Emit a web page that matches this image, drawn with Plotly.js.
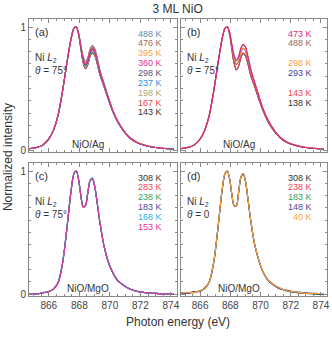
<!DOCTYPE html>
<html>
<head>
<meta charset="utf-8">
<script src="https://cdn.plot.ly/plotly-3.0.1.min.js"></script>
<style>
  body { margin: 0; background: #fff; }
  #plot { width: 332px; height: 337px; }
</style>
</head>
<body>
<div id="plot"></div>
<script>
// photon energy grid (eV) shared by all spectra
let energy = [864.7, 865.2, 865.6, 866.0, 866.3, 866.6, 866.9, 867.2, 867.45, 867.65, 867.8, 867.95,
  868.1, 868.25, 868.4, 868.55, 868.7, 868.85, 869.0, 869.15, 869.35, 869.6, 869.9, 870.2,
  870.5, 870.9, 871.3, 871.8, 872.4, 873.0, 873.6, 874.2];

// (a) NiO/Ag, theta = 75
let temps_a = ["488 K", "476 K", "395 K", "360 K", "298 K", "237 K", "198 K", "167 K", "143 K"];
let colors_a = ["#5b8db3", "#9b6b5b", "#f7a23e", "#e2319b", "#56507c", "#2a92d2", "#a9a77c", "#f2424f", "#333333"];
let spectra_a = [
  [0.01, 0.02, 0.04, 0.09, 0.16, 0.28, 0.48, 0.72, 0.90, 0.99, 1.0, 0.95, 0.85, 0.76, 0.72, 0.75, 0.82, 0.85, 0.83, 0.76, 0.65, 0.55, 0.43, 0.32, 0.24, 0.16, 0.10, 0.06, 0.035, 0.02, 0.012, 0.008],
  [0.01, 0.02, 0.04, 0.09, 0.16, 0.28, 0.48, 0.72, 0.90, 0.99, 1.0, 0.95, 0.85, 0.755, 0.715, 0.745, 0.815, 0.845, 0.825, 0.755, 0.645, 0.548, 0.43, 0.32, 0.24, 0.16, 0.10, 0.06, 0.035, 0.02, 0.012, 0.008],
  [0.012, 0.022, 0.042, 0.092, 0.162, 0.282, 0.48, 0.72, 0.90, 0.99, 1.0, 0.95, 0.845, 0.75, 0.705, 0.735, 0.805, 0.835, 0.815, 0.75, 0.64, 0.545, 0.43, 0.32, 0.24, 0.16, 0.105, 0.065, 0.038, 0.022, 0.014, 0.01],
  [0.01, 0.02, 0.04, 0.09, 0.16, 0.28, 0.48, 0.72, 0.90, 0.99, 1.0, 0.945, 0.84, 0.745, 0.70, 0.73, 0.80, 0.83, 0.81, 0.745, 0.64, 0.54, 0.425, 0.318, 0.238, 0.158, 0.10, 0.06, 0.035, 0.02, 0.012, 0.008],
  [0.01, 0.02, 0.04, 0.09, 0.16, 0.28, 0.48, 0.72, 0.90, 0.99, 1.0, 0.945, 0.835, 0.735, 0.69, 0.72, 0.79, 0.82, 0.80, 0.735, 0.63, 0.535, 0.42, 0.315, 0.235, 0.156, 0.10, 0.06, 0.035, 0.02, 0.012, 0.008],
  [0.01, 0.02, 0.04, 0.09, 0.16, 0.28, 0.48, 0.72, 0.90, 0.99, 1.0, 0.945, 0.83, 0.73, 0.685, 0.715, 0.785, 0.815, 0.795, 0.73, 0.625, 0.53, 0.418, 0.313, 0.233, 0.155, 0.10, 0.06, 0.035, 0.02, 0.012, 0.008],
  [0.01, 0.02, 0.04, 0.09, 0.16, 0.28, 0.48, 0.72, 0.90, 0.99, 1.0, 0.94, 0.83, 0.725, 0.675, 0.705, 0.775, 0.805, 0.785, 0.725, 0.62, 0.528, 0.416, 0.312, 0.232, 0.155, 0.10, 0.06, 0.035, 0.02, 0.012, 0.008],
  [0.01, 0.02, 0.04, 0.09, 0.16, 0.28, 0.48, 0.72, 0.90, 0.99, 1.0, 0.94, 0.825, 0.715, 0.665, 0.695, 0.765, 0.795, 0.775, 0.715, 0.615, 0.525, 0.413, 0.31, 0.23, 0.155, 0.10, 0.06, 0.035, 0.02, 0.012, 0.008],
  [0.01, 0.02, 0.04, 0.09, 0.16, 0.28, 0.48, 0.72, 0.90, 0.99, 1.0, 0.94, 0.82, 0.71, 0.66, 0.69, 0.76, 0.79, 0.77, 0.71, 0.61, 0.52, 0.41, 0.31, 0.23, 0.155, 0.10, 0.06, 0.035, 0.02, 0.012, 0.008]
];

// (b) NiO/Ag, theta = 75
let temps_b = ["473 K", "488 K", "", "298 K", "293 K", "", "143 K", "138 K"];
let colors_b = ["#e2238d", "#9b6b5b", "", "#f7a23e", "#3d3d9c", "", "#f2424f", "#333333"];
let spectra_b = [
  [0.01, 0.02, 0.04, 0.09, 0.16, 0.28, 0.48, 0.72, 0.90, 0.99, 1.0, 0.955, 0.86, 0.77, 0.73, 0.76, 0.83, 0.86, 0.84, 0.77, 0.66, 0.555, 0.435, 0.325, 0.243, 0.162, 0.10, 0.06, 0.035, 0.02, 0.012, 0.008],
  [0.012, 0.022, 0.042, 0.092, 0.162, 0.282, 0.48, 0.72, 0.90, 0.99, 1.0, 0.955, 0.855, 0.765, 0.725, 0.755, 0.825, 0.855, 0.835, 0.765, 0.655, 0.553, 0.433, 0.323, 0.242, 0.162, 0.102, 0.062, 0.036, 0.021, 0.013, 0.009],
  null,
  [0.012, 0.022, 0.042, 0.092, 0.162, 0.282, 0.48, 0.72, 0.90, 0.99, 1.0, 0.95, 0.84, 0.745, 0.70, 0.73, 0.80, 0.83, 0.81, 0.745, 0.64, 0.54, 0.425, 0.318, 0.238, 0.16, 0.104, 0.064, 0.038, 0.022, 0.014, 0.01],
  [0.01, 0.02, 0.04, 0.09, 0.16, 0.28, 0.48, 0.72, 0.90, 0.99, 1.0, 0.95, 0.84, 0.74, 0.695, 0.725, 0.795, 0.825, 0.805, 0.74, 0.635, 0.538, 0.423, 0.316, 0.236, 0.157, 0.10, 0.06, 0.035, 0.02, 0.012, 0.008],
  null,
  [0.01, 0.02, 0.04, 0.09, 0.16, 0.28, 0.48, 0.72, 0.90, 0.99, 1.0, 0.94, 0.82, 0.71, 0.655, 0.685, 0.755, 0.79, 0.77, 0.71, 0.61, 0.52, 0.41, 0.31, 0.23, 0.155, 0.10, 0.06, 0.035, 0.02, 0.012, 0.008],
  [0.01, 0.02, 0.04, 0.09, 0.16, 0.28, 0.48, 0.72, 0.90, 0.99, 1.0, 0.94, 0.815, 0.705, 0.65, 0.68, 0.75, 0.785, 0.765, 0.705, 0.605, 0.518, 0.408, 0.308, 0.228, 0.153, 0.10, 0.06, 0.035, 0.02, 0.012, 0.008]
];

// (c) NiO/MgO, theta = 75
let temps_c = ["308 K", "283 K", "238 K", "183 K", "168 K", "153 K"];
let colors_c = ["#333333", "#f2424f", "#2fa564", "#4a4aa0", "#27b4ec", "#e6329f"];
let spectra_c = [
  [0.0, 0.0, 0.01, 0.02, 0.04, 0.09, 0.25, 0.55, 0.83, 0.98, 1.0, 0.93, 0.80, 0.71, 0.72, 0.82, 0.92, 0.94, 0.88, 0.76, 0.58, 0.40, 0.26, 0.17, 0.11, 0.07, 0.04, 0.02, 0.01, 0.005, 0.0, 0.0],
  [0.0, 0.0, 0.01, 0.02, 0.04, 0.09, 0.25, 0.55, 0.83, 0.98, 1.0, 0.93, 0.80, 0.712, 0.722, 0.822, 0.922, 0.942, 0.882, 0.762, 0.582, 0.402, 0.262, 0.172, 0.112, 0.07, 0.04, 0.02, 0.01, 0.005, 0.0, 0.0],
  [0.0, 0.0, 0.01, 0.02, 0.04, 0.09, 0.25, 0.55, 0.83, 0.98, 1.0, 0.93, 0.80, 0.708, 0.718, 0.818, 0.918, 0.938, 0.878, 0.758, 0.578, 0.398, 0.258, 0.168, 0.108, 0.07, 0.04, 0.02, 0.01, 0.005, 0.0, 0.0],
  [0.0, 0.0, 0.01, 0.02, 0.04, 0.092, 0.252, 0.552, 0.832, 0.98, 1.0, 0.93, 0.80, 0.71, 0.72, 0.82, 0.92, 0.94, 0.88, 0.76, 0.58, 0.40, 0.26, 0.17, 0.11, 0.07, 0.04, 0.02, 0.01, 0.005, 0.0, 0.0],
  [0.0, 0.0, 0.012, 0.022, 0.044, 0.095, 0.255, 0.555, 0.835, 0.98, 1.0, 0.93, 0.80, 0.714, 0.724, 0.824, 0.924, 0.944, 0.884, 0.764, 0.586, 0.406, 0.266, 0.176, 0.116, 0.074, 0.043, 0.022, 0.011, 0.006, 0.002, 0.001],
  [0.0, 0.0, 0.01, 0.02, 0.04, 0.09, 0.25, 0.55, 0.83, 0.98, 1.0, 0.93, 0.80, 0.706, 0.716, 0.816, 0.916, 0.936, 0.876, 0.756, 0.584, 0.404, 0.264, 0.174, 0.114, 0.072, 0.042, 0.022, 0.011, 0.005, 0.0, 0.0]
];

// (d) NiO/MgO, theta = 0
let temps_d = ["308 K", "238 K", "183 K", "148 K", "40 K"];
let colors_d = ["#333333", "#f2424f", "#2fa564", "#4a4aa0", "#f7a23e"];
let spectra_d = [
  [0.005, 0.01, 0.015, 0.025, 0.045, 0.10, 0.26, 0.56, 0.84, 0.98, 1.0, 0.94, 0.81, 0.72, 0.72, 0.83, 0.95, 0.98, 0.92, 0.79, 0.60, 0.41, 0.27, 0.17, 0.11, 0.07, 0.045, 0.025, 0.012, 0.006, 0.0, -0.005],
  [0.01, 0.005, 0.02, 0.02, 0.05, 0.095, 0.255, 0.555, 0.835, 0.98, 1.0, 0.935, 0.805, 0.715, 0.715, 0.825, 0.945, 0.975, 0.915, 0.785, 0.595, 0.405, 0.265, 0.175, 0.115, 0.075, 0.04, 0.03, 0.015, 0.004, 0.005, 0.0],
  [0.0, 0.012, 0.01, 0.03, 0.04, 0.10, 0.26, 0.56, 0.84, 0.98, 1.0, 0.94, 0.81, 0.718, 0.718, 0.828, 0.948, 0.978, 0.918, 0.788, 0.598, 0.408, 0.268, 0.168, 0.108, 0.072, 0.05, 0.02, 0.018, 0.008, -0.002, 0.004],
  [0.008, 0.008, 0.018, 0.022, 0.048, 0.098, 0.258, 0.558, 0.838, 0.98, 1.0, 0.938, 0.808, 0.72, 0.72, 0.83, 0.95, 0.98, 0.92, 0.79, 0.60, 0.41, 0.27, 0.17, 0.11, 0.068, 0.042, 0.028, 0.01, 0.01, 0.003, -0.003],
  [0.006, 0.015, 0.012, 0.028, 0.042, 0.102, 0.262, 0.562, 0.842, 0.985, 1.0, 0.942, 0.812, 0.722, 0.722, 0.832, 0.952, 0.982, 0.922, 0.792, 0.602, 0.412, 0.272, 0.172, 0.112, 0.073, 0.047, 0.024, 0.016, 0.005, 0.006, 0.002]
];

let font = "Liberation Sans, Arial, sans-serif";

// order in which the curves are stacked (last one ends up on top)
let panels = [
  { temps: temps_a, colors: colors_a, spectra: spectra_a, order: [8, 7, 6, 5, 0, 1, 2, 4, 3], xa: "x", ya: "y", tag: "(a)", theta: "<i>θ</i> = 75°", film: "NiO/Ag" },
  { temps: temps_b, colors: colors_b, spectra: spectra_b, order: [7, 6, 4, 3, 1, 0], xa: "x2", ya: "y2", tag: "(b)", theta: "<i>θ</i> = 75°", film: "NiO/Ag" },
  { temps: temps_c, colors: colors_c, spectra: spectra_c, order: [0, 1, 2, 3, 4, 5], xa: "x3", ya: "y3", tag: "(c)", theta: "<i>θ</i> = 75°", film: "NiO/MgO" },
  { temps: temps_d, colors: colors_d, spectra: spectra_d, order: [0, 1, 2, 3, 4], xa: "x4", ya: "y4", tag: "(d)", theta: "<i>θ</i> = 0", film: "NiO/MgO" }
];

let data = [];
let annotations = [];

panels.forEach(function (p) {
  let xref = p.xa + " domain";
  let yref = p.ya + " domain";
  p.order.forEach(function (i) {
    data.push({
      x: energy,
      y: p.spectra[i],
      xaxis: p.xa,
      yaxis: p.ya,
      mode: "lines",
      line: { color: p.colors[i], width: 1.1, shape: "spline", smoothing: 0.9 },
      showlegend: false,
      hoverinfo: "skip"
    });
  });
  p.temps.forEach(function (t, i) {
    if (!t) return;
    annotations.push({
      xref: xref, yref: yref, x: 0.91, y: 0.89 - i * 0.074,
      xanchor: "right", yanchor: "middle", showarrow: false,
      text: t, font: { family: font, size: 9, color: p.colors[i] }
    });
  });
  annotations.push({
    xref: xref, yref: yref, x: 0.03, y: 0.9, xanchor: "left", yanchor: "middle",
    showarrow: false, text: p.tag, font: { family: font, size: 11, color: "#333" }
  });
  annotations.push({
    xref: xref, yref: yref, x: 0.03, y: 0.71, xanchor: "left", yanchor: "middle",
    showarrow: false, text: "Ni <i>L</i><sub>2</sub>", font: { family: font, size: 10, color: "#333" }
  });
  annotations.push({
    xref: xref, yref: yref, x: 0.03, y: 0.61, xanchor: "left", yanchor: "middle",
    showarrow: false, text: p.theta, font: { family: font, size: 10, color: "#333" }
  });
  annotations.push({
    xref: xref, yref: yref, x: 0.4, y: 0.055, xanchor: "center", yanchor: "middle",
    showarrow: false, text: p.film, font: { family: font, size: 10, color: "#333" }
  });
});

annotations.push({
  xref: "paper", yref: "paper", x: 0.5, y: -0.094, xanchor: "center", yanchor: "middle",
  showarrow: false, text: "Photon energy (eV)", font: { family: font, size: 12, color: "#333" }
});
annotations.push({
  xref: "paper", yref: "paper", x: -0.072, y: 0.5, xanchor: "center", yanchor: "middle",
  textangle: -90, showarrow: false, text: "Normalized intensity", font: { family: font, size: 12, color: "#333" }
});

function xaxis_def(domain, labels, anchor) {
  return {
    domain: domain, anchor: anchor, range: [864.7, 874.4],
    tick0: 866, dtick: 2, ticks: "inside", ticklen: 4, tickwidth: 1, tickcolor: "#888",
    minor: { ticks: "inside", dtick: 0.5, ticklen: 2, tickcolor: "#888" },
    showline: true, linecolor: "#888", linewidth: 1, mirror: "allticks",
    showgrid: false, zeroline: false, showticklabels: labels,
    tickfont: { family: font, size: 10, color: "#444" }
  };
}

function yaxis_def(domain, labels, anchor) {
  return {
    domain: domain, anchor: anchor, range: [-0.016, 1.065],
    tick0: 0, dtick: 1, ticks: "inside", ticklen: 4, tickwidth: 1, tickcolor: "#888",
    minor: { ticks: "inside", dtick: 0.1, ticklen: 2, tickcolor: "#888" },
    showline: true, linecolor: "#888", linewidth: 1, mirror: "allticks",
    showgrid: false, zeroline: false, showticklabels: labels,
    tickfont: { family: font, size: 10, color: "#444" }
  };
}

let layout = {
  width: 332,
  height: 337,
  margin: { l: 29, r: 5, t: 19, b: 41 },
  paper_bgcolor: "#fff",
  plot_bgcolor: "#fff",
  title: { text: "3 ML NiO", x: 0.535, xanchor: "center", y: 0.975, yanchor: "middle", font: { family: font, size: 12, color: "#333" } },
  xaxis: xaxis_def([0, 0.4966], false, "y"),
  yaxis: yaxis_def([0.5199, 1], true, "x"),
  xaxis2: xaxis_def([0.5084, 1], false, "y2"),
  yaxis2: yaxis_def([0.5199, 1], false, "x2"),
  xaxis3: xaxis_def([0, 0.4966], true, "y3"),
  yaxis3: yaxis_def([0, 0.4801], true, "x3"),
  xaxis4: xaxis_def([0.5084, 1], true, "y4"),
  yaxis4: yaxis_def([0, 0.4801], false, "x4"),
  annotations: annotations
};

Plotly.newPlot("plot", data, layout, { staticPlot: true, displayModeBar: false });
</script>
</body>
</html>
